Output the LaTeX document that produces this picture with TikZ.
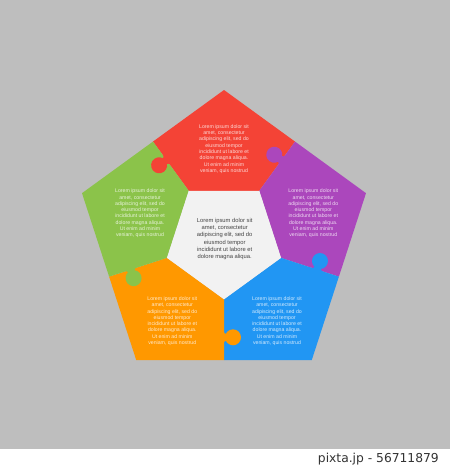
\documentclass[tikz,border=0pt]{standalone}
\usepackage{fontspec}
\setmainfont{Liberation Sans}
\newfontfamily\markfont{DejaVu Sans}
\usetikzlibrary{calc}
\definecolor{bg}{HTML}{BEBEBE}
\definecolor{cred}{HTML}{F44336}
\definecolor{cpurple}{HTML}{AB47BC}
\definecolor{cblue}{HTML}{2196F3}
\definecolor{corange}{HTML}{FF9800}
\definecolor{cgreen}{HTML}{8BC34A}
\definecolor{cinner}{HTML}{F2F2F2}
\definecolor{ctext}{HTML}{444444}
\definecolor{cmark}{HTML}{333333}
\begin{document}
\begin{tikzpicture}[x=1pt,y=-1pt,
  lbl/.style={align=center,text=white,text opacity=0.8,font=\fontsize{5.2}{6.3}\selectfont,inner sep=0pt},
  clbl/.style={align=center,text=ctext,font=\fontsize{5.8}{7.2}\selectfont,inner sep=0pt}]
\useasboundingbox (0,0) rectangle (450,469);
\fill[bg] (0,0) rectangle (450,469);
\fill[white] (0,449) rectangle (450,469);
\node[anchor=east,text=cmark,font=\markfont\fontsize{12.3}{14}\selectfont,inner sep=0pt] (mark) at (439,459.5) {pixta.jp - 56711879};
\coordinate (O) at (224,239.3);
% pieces
\foreach \a/\c in {234/cred,306/cpurple,18/cblue,90/corange,162/cgreen}{
  \fill[\c] ([shift={(\a:60)}]O) -- ([shift={(\a:120.8)}]O) -- ([shift={(\a+36:149.3)}]O)
     -- ([shift={(\a+72:120.8)}]O) -- ([shift={(\a+72:60)}]O) -- cycle;
}
% puzzle knobs (local frame: u along the dividing line, -v into the neighbour)
\foreach \a/\c in {234/cred,306/cpurple,18/cblue,90/corange,162/cgreen}{
  \begin{scope}[shift={(O)},rotate=-\a]
    \fill[\c] (90.5,0.6) .. controls (94,0.6) and (95,-1.5) .. (95,-4) -- (101,-4)
       .. controls (101,-1.5) and (102,0.6) .. (105.5,0.6) -- cycle;
    \fill[\c] (98,-9) circle (8);
  \end{scope}
}
% inner pentagon
\fill[cinner] ([shift={(18:60)}]O) -- ([shift={(90:60)}]O) -- ([shift={(162:60)}]O)
   -- ([shift={(234:60)}]O) -- ([shift={(306:60)}]O) -- cycle;
% texts
\node[lbl] (tred) at (224,149) {Lorem ipsum dolor sit\\amet, consectetur\\adipiscing elit, sed do\\eiusmod tempor\\incididunt ut labore et\\dolore magna aliqua.\\Ut enim ad minim\\veniam, quis nostrud};
\node[lbl] (tpurple) at (313.3,213.5) {Lorem ipsum dolor sit\\amet, consectetur\\adipiscing elit, sed do\\eiusmod tempor\\incididunt ut labore et\\dolore magna aliqua.\\Ut enim ad minim\\veniam, quis nostrud};
\node[lbl] (tgreen) at (140,213.5) {Lorem ipsum dolor sit\\amet, consectetur\\adipiscing elit, sed do\\eiusmod tempor\\incididunt ut labore et\\dolore magna aliqua.\\Ut enim ad minim\\veniam, quis nostrud};
\node[lbl] (torange) at (172.3,321.2) {Lorem ipsum dolor sit\\amet, consectetur\\adipiscing elit, sed do\\eiusmod tempor\\incididunt ut labore et\\dolore magna aliqua.\\Ut enim ad minim\\veniam, quis nostrud};
\node[lbl] (tblue) at (277,321.2) {Lorem ipsum dolor sit\\amet, consectetur\\adipiscing elit, sed do\\eiusmod tempor\\incididunt ut labore et\\dolore magna aliqua.\\Ut enim ad minim\\veniam, quis nostrud};
\node[clbl] (tcenter) at (224.7,239) {Lorem ipsum dolor sit\\amet, consectetur\\adipiscing elit, sed do\\eiusmod tempor\\incididunt ut labore et\\dolore magna aliqua.};
\end{tikzpicture}
\end{document}
